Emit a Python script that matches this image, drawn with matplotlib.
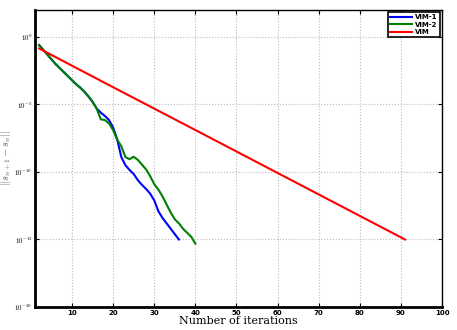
import matplotlib.pyplot as plt
import numpy as np

# datos (log10 del residuo)
it_vim1 = list(range(2, 37))
log_vim1 = [-0.6, -0.95, -1.3, -1.65, -2.0, -2.3, -2.6, -2.9, -3.2, -3.5,
            -3.75, -4.05, -4.4, -4.8, -5.3, -5.6, -5.85, -6.15, -6.7, -7.6,
            -8.9, -9.5, -9.85, -10.15, -10.6, -10.95, -11.25, -11.6, -12.1,
            -12.9, -13.4, -13.8, -14.2, -14.6, -15.0]

it_vim2 = list(range(2, 41))
log_vim2 = [-0.6, -0.95, -1.3, -1.65, -2.0, -2.3, -2.6, -2.9, -3.2, -3.5,
            -3.75, -4.05, -4.4, -4.8, -5.3, -6.1, -6.15, -6.4, -6.9, -7.6,
            -8.1, -8.9, -9.05, -8.87, -9.1, -9.45, -9.8, -10.3, -10.9, -11.3,
            -11.8, -12.4, -13.0, -13.5, -13.8, -14.2, -14.5, -14.8, -15.3]

it_vim = [2, 20, 40, 60, 80, 91]
log_vim = [-0.85, -3.72, -6.89, -10.07, -13.25, -15.0]

x_ticks = [10, 20, 30, 40, 50, 60, 70, 80, 90, 100]
y_ticks = [1e-20, 1e-15, 1e-10, 1e-5, 1e0]
y_labels = ['$10^{-20}$', '$10^{-15}$', '$10^{-10}$', '$10^{-5}$', '$10^{0}$']

plt.rcParams['mathtext.fontset'] = 'cm'

fig = plt.figure(figsize=(4.57, 3.30), dpi=100)
ax = fig.add_axes([0.0766, 0.0697, 0.8906, 0.9])

ax.semilogy(it_vim1, 10.0 ** np.array(log_vim1), color='#0000ff', lw=1.5, label='VIM-1')
ax.semilogy(it_vim2, 10.0 ** np.array(log_vim2), color='#008000', lw=1.5, label='VIM-2')
ax.semilogy(it_vim, 10.0 ** np.array(log_vim), color='#ff0000', lw=1.5, label='VIM')

ax.set_xlim(1, 100)
ax.set_ylim(1e-20, 1e2)
ax.set_xticks(x_ticks)
ax.set_yticks(y_ticks)
ax.set_yticklabels(y_labels)
ax.minorticks_off()
ax.tick_params(direction='in', length=3, labelsize=5, top=True, right=True, pad=2)
for lab in ax.get_xticklabels():
    lab.set_fontweight('bold')

ax.grid(True, linestyle=':', color='#bbbbbb', lw=0.8)

for side in ['left', 'bottom']:
    ax.spines[side].set_linewidth(2)
for side in ['top', 'right']:
    ax.spines[side].set_linewidth(1)

ax.set_xlabel('Number of iterations', family='serif', fontsize=8, labelpad=0)
ax.set_ylabel(r'$||s_{n+1}-s_n||$', fontsize=7.5, color='#555555')
ax.yaxis.set_label_coords(-0.053, 0.5)

leg = ax.legend(loc='upper right', fontsize=5, fancybox=False, framealpha=1,
                edgecolor='black', borderpad=0.3, handlelength=3.2, labelspacing=0.2,
                handletextpad=0.5, borderaxespad=0.3)
leg.get_frame().set_linewidth(1.2)
for t in leg.get_texts():
    t.set_fontweight('bold')

fig.savefig('out.png', dpi=100)
